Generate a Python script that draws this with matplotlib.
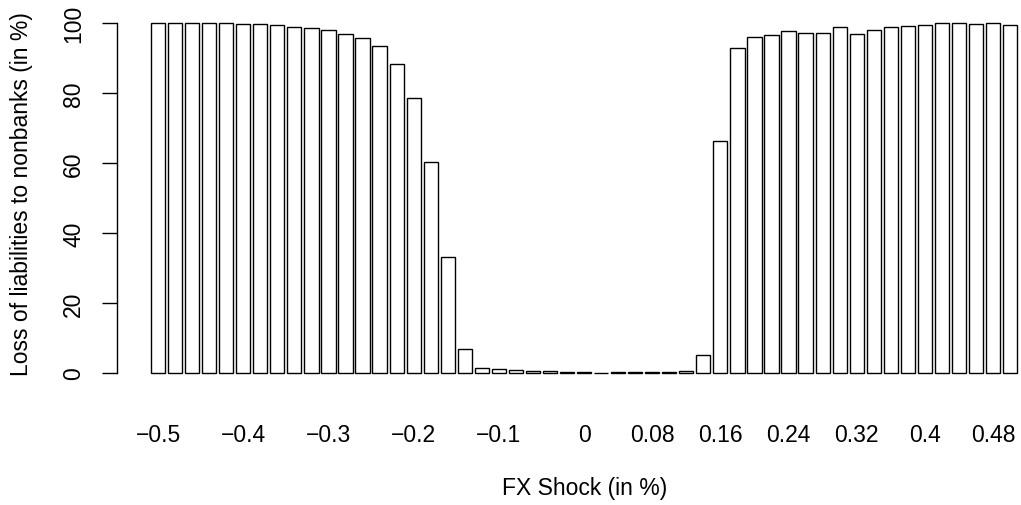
import matplotlib
matplotlib.use("Agg")
import matplotlib.pyplot as plt

# FX shock categories (in %)
shocks = [-0.50, -0.48, -0.46, -0.44, -0.42, -0.40, -0.38, -0.36, -0.34, -0.32,
          -0.30, -0.28, -0.26, -0.24, -0.22, -0.20, -0.18, -0.16, -0.14, -0.12,
          -0.10, -0.08, -0.06, -0.04, -0.02, 0.00, 0.02, 0.04, 0.06, 0.08,
          0.10, 0.12, 0.14, 0.16, 0.18, 0.20, 0.22, 0.24, 0.26, 0.28,
          0.30, 0.32, 0.34, 0.36, 0.38, 0.40, 0.42, 0.44, 0.46, 0.48, 0.50]

# Loss of liabilities to nonbanks (in %)
loss = [100.0, 100.0, 100.0, 100.0, 99.9, 99.8, 99.7, 99.3, 98.9, 98.7,
        98.1, 97.0, 95.7, 93.5, 88.2, 78.6, 60.4, 33.1, 6.9, 1.4,
        1.1, 0.8, 0.5, 0.5, 0.3, 0.15, 0.1, 0.2, 0.2, 0.2,
        0.3, 0.5, 5.2, 66.4, 92.9, 96.1, 96.7, 97.6, 97.2, 97.2,
        98.8, 97.0, 97.9, 98.8, 99.2, 99.4, 99.9, 99.9, 99.8, 100.0, 99.5]

# tick labels that are shown (subset of categories)
shown_labels = ["−0.5", "−0.4", "−0.3", "−0.2", "−0.1", "0", "0.08",
                "0.16", "0.24", "0.32", "0.4", "0.48"]
shown_values = [-0.5, -0.4, -0.3, -0.2, -0.1, 0.0, 0.08, 0.16, 0.24, 0.32, 0.4, 0.48]

y_ticks = [0, 20, 40, 60, 80, 100]

plt.rcParams['font.family'] = ['Liberation Sans', 'DejaVu Sans']

W, H = 1021, 506
fig = plt.figure(figsize=(W / 100, H / 100), dpi=100)
left, right, top, bottom = 117, 1052, 10, 388
ax = fig.add_axes([left / W, 1 - bottom / H, (right - left) / W, (bottom - top) / H])

pos = list(range(len(shocks)))
ax.bar(pos, loss, width=1 / 1.2, color="white", edgecolor="black", linewidth=1.0)

ax.set_xlim(-2.41, 52.46)
ax.set_ylim(-4, 104)

for s in ["top", "right", "bottom"]:
    ax.spines[s].set_visible(False)
ax.spines["left"].set_bounds(0, 100)
ax.spines["left"].set_linewidth(1.0)

ax.set_yticks(y_ticks)
ax.set_yticklabels([str(v) for v in y_ticks], rotation=90, va="center")
ax.tick_params(axis="y", length=10.8, width=1.0, labelsize=16.5, pad=12)

xt = [min(range(len(shocks)), key=lambda i: abs(shocks[i] - v)) for v in shown_values]
ax.set_xticks(xt)
ax.set_xticklabels(shown_labels)
ax.tick_params(axis="x", length=0, labelsize=16.5, pad=26)

fig.text(585 / W, 1 - 489 / H, "FX Shock (in %)", ha="center", va="center", fontsize=16.5)
fig.text(22 / W, 1 - 194 / H, "Loss of liabilities to nonbanks (in %)", ha="center",
         va="center", rotation=90, fontsize=16.5)

fig.savefig("out.png", dpi=100)
